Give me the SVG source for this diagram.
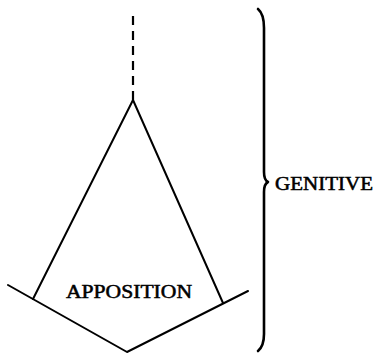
<svg xmlns="http://www.w3.org/2000/svg" width="378" height="353" viewBox="0 0 378 353">
<style>
.ln{fill:none;stroke:#000;stroke-width:2;stroke-linecap:round;stroke-linejoin:round}
.dash{fill:none;stroke:#000;stroke-width:2.2;stroke-dasharray:9 6}
.br{fill:none;stroke:#000;stroke-width:2.6;stroke-linecap:round;stroke-linejoin:round}
.t{font-family:"Liberation Serif","Times New Roman",serif;font-size:18px;fill:#000;stroke:#000;stroke-width:0.5}
</style>
<rect width="378" height="353" fill="#fff"/>
<g id="connectors">
<line class="dash" x1="133" y1="16" x2="133" y2="100"/>
<polyline class="ln" points="33,299 133,100 223,303"/>
</g>
<g id="apposition">
<polyline class="ln" points="8,285 127,352 248,291"/>
<text class="t" x="66" y="298" textLength="126" lengthAdjust="spacingAndGlyphs">APPOSITION</text>
</g>
<g id="genitive">
<path class="br" d="M258,9 Q264,14 264,28 L264,172 Q264,180 268,182 Q264,184 264,192 L264,334 Q264,346 258,351"/>
<text class="t" x="275" y="190" textLength="98" lengthAdjust="spacingAndGlyphs">GENITIVE</text>
</g>
</svg>
